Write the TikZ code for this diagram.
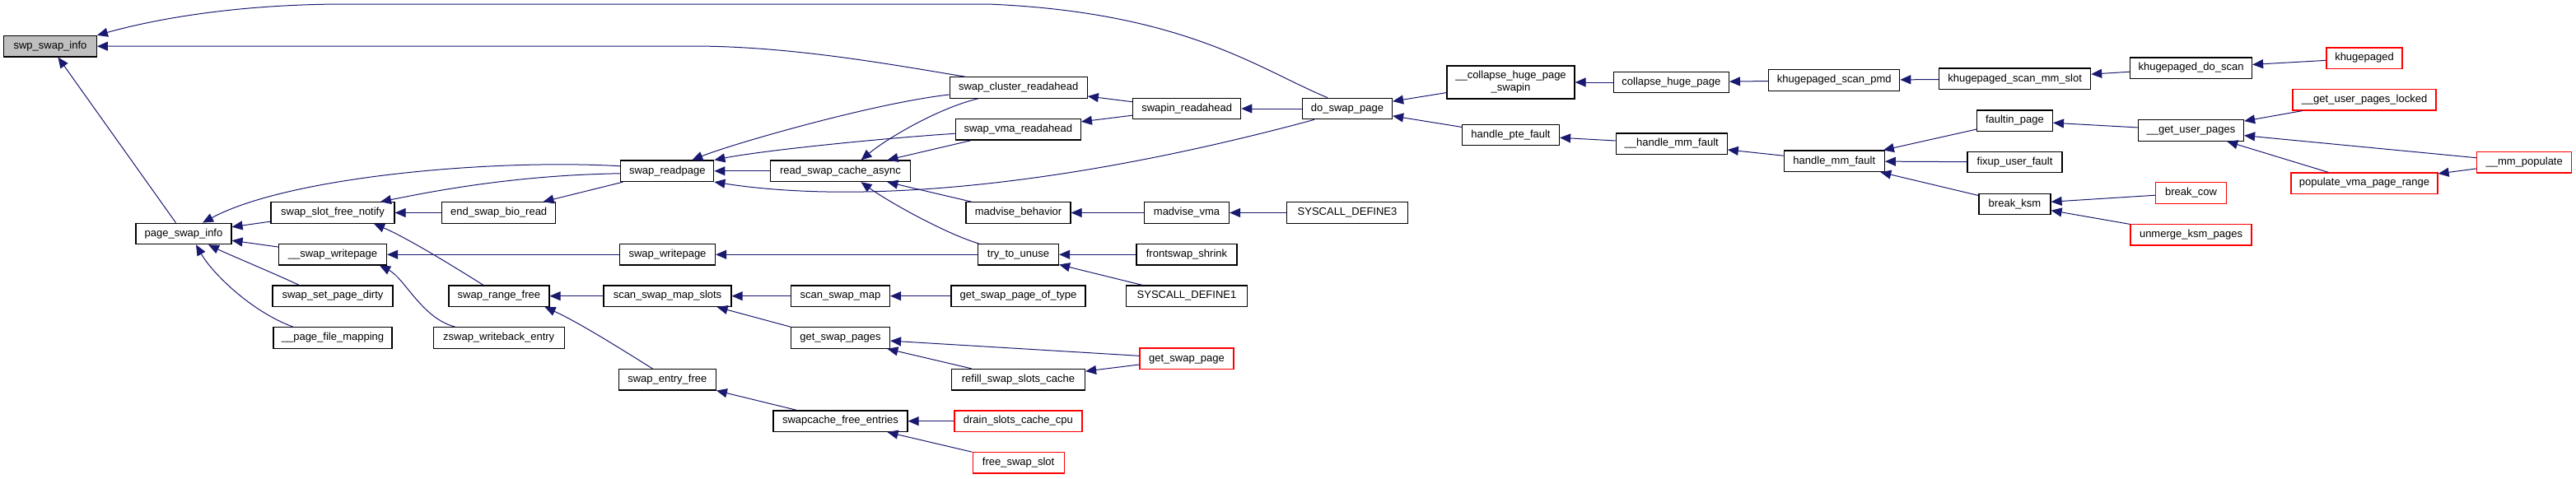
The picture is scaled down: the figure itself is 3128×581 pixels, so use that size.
\documentclass[tikz,border=0pt]{standalone}
\usepackage{fontspec}
\setmainfont{Liberation Sans}
\usepackage{xcolor}
\usepackage{tikz}
\usetikzlibrary{arrows.meta}
\definecolor{cgedge}{HTML}{191970}
\definecolor{cgroot}{HTML}{BFBFBF}
\definecolor{cgred}{HTML}{FF0000}

\begin{document}
\begin{tikzpicture}[x=1pt,y=-1pt,font=\fontsize{13}{15}\selectfont,
  fn/.style={draw=black,fill=white,line width=1.2pt,minimum height=25.5pt,inner sep=0pt,text height=9.5pt,text depth=3pt},
  fnred/.style={fn,draw=cgred},
  call/.style={-{Triangle[length=13pt,width=11pt]},cgedge,line width=1pt}]
  \useasboundingbox (0,0) rectangle (3128,581);
  \node[fn,fill=cgroot,minimum width=112.6pt] (ssi) at (61,56.2) {swp\_swap\_info};
  \foreach \nm/\px/\py/\ww/\txt in {%
    psi/223/284/116/page\_swap\_info, ssfn/404/258.5/150/swap\_slot\_free\_notify,
    uswp/404/309.3/131/\_\_swap\_writepage, sspd/404/359.7/146/swap\_set\_page\_dirty,
    upfm/404/410.5/144/\_\_page\_file\_mapping, srp/810.3/207.8/113/swap\_readpage,
    esbr/605.7/258.5/138/end\_swap\_bio\_read, rsca/1020.5/207.8/170/read\_swap\_cache\_async,
    swp/810.5/309.3/116/swap\_writepage, srf/605.9/359.7/122/swap\_range\_free,
    zwe/605.7/410.5/159/zswap\_writeback\_entry, ssms/810.5/359.7/155/scan\_swap\_map\_slots,
    sef/810.3/461.2/118/swap\_entry\_free, ssm/1020.5/359.7/120/scan\_swap\_map,
    gsps/1020.5/410.5/120/get\_swap\_pages, sfe/1020.5/511.7/163/swapcache\_free\_entries,
    scr/1236.7/106.5/167/swap\_cluster\_readahead, svr/1236.3/157.3/152/swap\_vma\_readahead,
    sir/1441.2/132/131/swapin\_readahead, mb/1236.5/258.5/127/madvise\_behavior,
    mv/1441/258.5/103/madvise\_vma, sd3/1636/258.5/147/SYSCALL\_DEFINE3,
    ttu/1236.5/309.3/98/try\_to\_unuse, fss/1441/309.3/122/frontswap\_shrink,
    sd1/1441/359.7/147/SYSCALL\_DEFINE1, gspt/1236.5/359.7/163/get\_swap\_page\_of\_type,
    rssc/1236.5/461.2/162/refill\_swap\_slots\_cache, dsp/1636/132/109/do\_swap\_page,
    hpf/1834.5/164/118/handle\_pte\_fault, chp/2029.4/100/140/collapse\_huge\_page,
    uhmf/2029.7/174.7/135/\_\_handle\_mm\_fault, ksp/2227.2/97.5/159/khugepaged\_scan\_pmd,
    ksms/2446.6/95.8/184/khugepaged\_scan\_mm\_slot, hmf/2227.3/195.8/122/handle\_mm\_fault,
    fip/2446.4/146.7/92/faultin\_page, fuf/2446.5/197/115/fixup\_user\_fault,
    bk/2446.5/248/87/break\_ksm, kds/2660.5/82.7/148/khugepaged\_do\_scan,
    ugup/2660.5/158.5/128/\_\_get\_user\_pages}{
      \node[fn,minimum width=\ww pt] (\nm) at (\px,\py) {\txt};
  }
  \foreach \nm/\px/\py/\ww/\txt in {%
    gsp/1441/435.8/114/get\_swap\_page, dscc/1236.4/511.7/155/drain\_slots\_cache\_cpu,
    fsl/1236.6/562.3/111/free\_swap\_slot, kpd/2871/70.7/92/khugepaged,
    ugupl/2871/121.3/174/\_\_get\_user\_pages\_locked, bc/2660.5/234.5/86/break\_cow,
    ukp/2660.5/285.3/147/unmerge\_ksm\_pages, pvpr/2871/222.7/178/populate\_vma\_page\_range,
    ump/3065.2/197.3/115/\_\_mm\_populate}{
      \node[fnred,minimum width=\ww pt] (\nm) at (\px,\py) {\txt};
  }
  \node[fn,minimum width=155pt,minimum height=40pt,align=center,text height=24.5pt,text depth=3pt] (chps) at (1834.5,100) {\_\_collapse\_huge\_page\\\_swapin};
  \foreach \a/\b in {psi/ssi, ssfn/psi, uswp/psi, esbr/ssfn, swp/uswp, srp/esbr, rsca/srp,
    svr/rsca, mb/rsca, sir/scr, sir/svr, dsp/sir, mv/mb, sd3/mv, ttu/swp, fss/ttu, sd1/ttu,
    ssms/srf, ssm/ssms, gspt/ssm, gsp/gsps, rssc/gsps, gsp/rssc, dscc/sfe, fsl/sfe,
    chps/dsp, hpf/dsp, chp/chps, uhmf/hpf, ksp/chp, ksms/ksp, kds/ksms, kpd/kds,
    hmf/uhmf, fip/hmf, fuf/hmf, bk/hmf, ugup/fip, bc/bk, ukp/bk, ugupl/ugup, ump/ugup,
    pvpr/ugup, ump/pvpr}{
      \draw[call] (\a) -- (\b);
  }
  \draw[call] (gsps.north west) -- ([xshift=-18pt]ssms.south east);
  \draw[call] ([xshift=29pt]sfe.north west) -- (sef.south east);
  \draw[call] ([xshift=-24pt]dsp.north) .. controls (1530,85) and (1440,15) .. (1200,5) -- (420,5) .. controls (300,5) and (200,20) .. (ssi.north east);
  \draw[call] ([xshift=-65pt]scr.north) .. controls (1080,78) and (960,56) .. (840,56) -- (ssi.east);
  \draw[call] ([yshift=6pt]srp.west) .. controls +(-154,-9) and +(104,-56) .. ([xshift=23pt]psi.north);
  \draw[call] ([yshift=-3pt]srp.west) .. controls +(-130,2) and +(60,-12) .. ([xshift=58pt]ssfn.north);
  \draw[call] ([xshift=-41pt]sspd.north) .. controls +(-25,-12) and +(25,12) .. ([xshift=30pt]psi.south);
  \draw[call] ([xshift=-48pt]upfm.north) .. controls +(-50,-18) and +(20,35) .. ([xshift=15pt]psi.south);
  \draw[call] ([xshift=-19pt]srf.north) .. controls +(-40,-25) and +(40,17) .. ([xshift=50pt]ssfn.south);
  \draw[call] ([xshift=-53pt]zwe.north) .. controls +(-40,-10) and +(30,15) .. ([xshift=57pt]uswp.south);
  \draw[call] ([yshift=-8.5pt]scr.west) .. controls +(-90,10) and +(50,-20) .. ([xshift=30pt]srp.north);
  \draw[call] ([yshift=-5pt]svr.west) .. controls +(-80,5) and +(60,-12) .. (srp.north east);
  \draw[call] ([xshift=-40pt]dsp.south) .. controls +(-296,80) and +(181,28) .. (srp.south east);
  \draw[call] ([xshift=-49pt]scr.south) .. controls +(-50,12) and +(30,-25) .. ([xshift=25pt]rsca.north);
  \draw[call] ([xshift=-48pt]ttu.north) .. controls +(-40,-12) and +(35,25) .. ([xshift=25pt]rsca.south);
  \draw[call] ([xshift=-18pt]sef.north) .. controls +(-40,-25) and +(40,18) .. ([xshift=-6pt]srf.south east);
\end{tikzpicture}
\end{document}
